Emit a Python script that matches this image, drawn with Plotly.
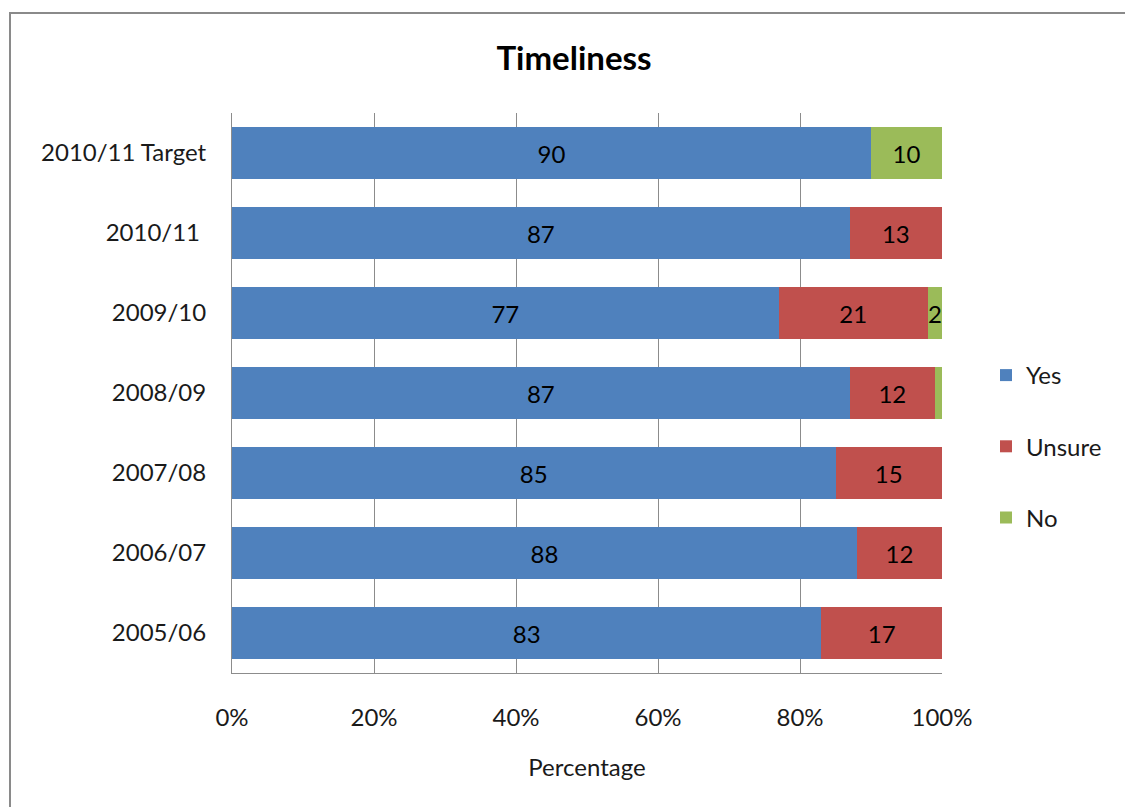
import plotly.graph_objects as go

# Survey responses on timeliness, by year (percent of respondents)
years = ["2010/11 Target", "2010/11 ", "2009/10", "2008/09", "2007/08", "2006/07", "2005/06"]
yes_pct = [90, 87, 77, 87, 85, 88, 83]
unsure_pct = [0, 13, 21, 12, 15, 12, 17]
no_pct = [10, 0, 2, 1, 0, 0, 0]

series = [
    ("Yes", yes_pct, "#4F81BD", True),
    ("Unsure", unsure_pct, "#C0504D", True),
    ("No", no_pct, "#9BBB59", False),
]

FONT = "Lato, 'Open Sans', sans-serif"
W, H = 1125, 807
ML, MR, MT, MB = 232, 183, 113, 134

fig = go.Figure()
for name, vals, color, label_all in series:
    # label every non-zero segment; tiny 1% slivers stay unlabeled
    labels = [str(v) if (v > 1 or (v > 0 and label_all)) else "" for v in vals]
    fig.add_trace(go.Bar(
        y=years, x=vals, name=name, orientation="h",
        marker=dict(color=color, line=dict(width=0)),
        text=labels, textposition="inside", insidetextanchor="middle",
        textangle=0, constraintext="none",
        textfont=dict(family=FONT, size=24, color="#000000"),
        legendgroup=name,
    ))

plot_w = W - ML - MR
plot_h = H - MT - MB
# outer chart-area frame, expressed in paper units of the plot area
x0 = (10 - ML) / plot_w
y1 = (H - MB - 13) / plot_h
x1 = (1138 - ML) / plot_w
y0 = -(MB + 20) / plot_h

fig.update_layout(
    width=W, height=H,
    margin=dict(l=ML, r=MR, t=MT, b=MB),
    barmode="stack", bargap=0.35,
    paper_bgcolor="white", plot_bgcolor="white",
    font=dict(family=FONT, size=24, color="#000000"),
    uniformtext=dict(minsize=24, mode="show"),
    title=dict(text="<b>Timeliness</b>", x=(574 - ML) / plot_w, xref="paper",
               xanchor="center", y=1 - 58 / H, yanchor="middle",
               font=dict(family=FONT, size=33, color="#000000")),
    xaxis=dict(range=[0, 100], tickvals=[0, 20, 40, 60, 80, 100],
               ticktext=["0%", "20%", "40%", "60%", "80%", "100%"],
               showgrid=True, gridcolor="#8c8c8c", gridwidth=1,
               showline=True, linecolor="#8c8c8c", linewidth=1,
               ticks="", ticklabelstandoff=23, zeroline=False,
               tickfont=dict(size=24, color="#1a1a1a"),
               title=dict(text="Percentage", standoff=29,
                          font=dict(size=24, color="#1a1a1a"))),
    yaxis=dict(autorange="reversed", showline=True, linecolor="#8c8c8c",
               linewidth=1, ticks="", ticklabelstandoff=20, showgrid=False,
               tickfont=dict(size=24, color="#1a1a1a")),
    legend=dict(x=(986 - ML) / plot_w, xanchor="left",
                y=(H - MB - 353) / plot_h, yanchor="top",
                traceorder="grouped", tracegroupgap=37,
                font=dict(size=24, color="#1a1a1a"),
                itemwidth=30, bgcolor="rgba(0,0,0,0)"),
    shapes=[dict(type="rect", xref="paper", yref="paper",
                 x0=x0, x1=x1, y0=y0, y1=y1,
                 line=dict(color="#8a8a8a", width=2), layer="below")],
)

fig.write_html("out.html")
